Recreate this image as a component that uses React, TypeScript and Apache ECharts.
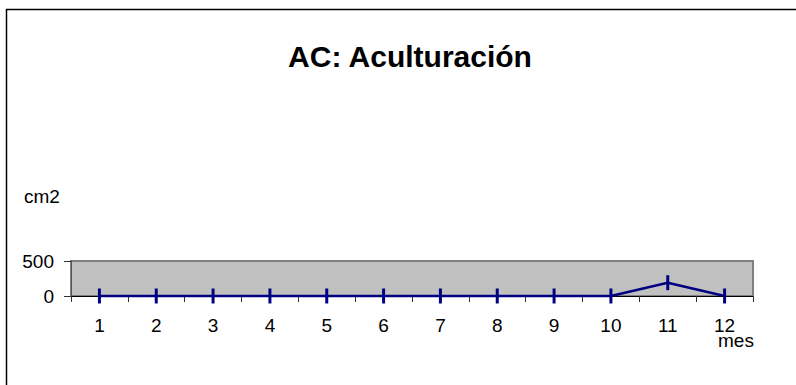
import React, { useEffect, useRef } from "react";
import * as echarts from "echarts";

const months = ["1", "2", "3", "4", "5", "6", "7", "8", "9", "10", "11", "12"];
const values = [0, 0, 0, 0, 0, 0, 0, 0, 0, 0, 190, 0];
const yTicks = { min: 0, max: 500, interval: 500 };
const titleText = "AC: Aculturación";
const yName = "cm2";
const xName = "mes";

const FONT = "'Liberation Sans', Arial, sans-serif";

export default function App() {
  const ref = useRef<HTMLDivElement>(null);
  useEffect(() => {
    if (!ref.current) return;
    const chart = echarts.init(ref.current, undefined, { renderer: "svg" });
    chart.setOption({
      animation: false,
      backgroundColor: "#ffffff",
      textStyle: { fontFamily: FONT },
      title: {
        text: titleText,
        left: 405,
        top: 36,
        textAlign: "center",
        textStyle: { fontSize: 30, fontWeight: "bold", color: "#000", fontFamily: FONT },
      },
      graphic: [
        {
          type: "rect",
          shape: { x: 6.5, y: 9.5, width: 900, height: 500 },
          style: { fill: "none", stroke: "#000", lineWidth: 1.5 },
          silent: true,
        },
        {
          type: "text",
          x: 24,
          y: 196,
          style: { text: yName, fontSize: 19, fill: "#000", fontFamily: FONT, textVerticalAlign: "middle" },
        },
        {
          type: "text",
          x: 718,
          y: 340,
          style: { text: xName, fontSize: 19, fill: "#000", fontFamily: FONT, textVerticalAlign: "middle" },
        },
      ],
      grid: {
        left: 71,
        right: 43,
        top: 261,
        bottom: 89,
        show: true,
        backgroundColor: "#c0c0c0",
        borderColor: "#808080",
        borderWidth: 2,
      },
      xAxis: {
        type: "category",
        data: months,
        boundaryGap: true,
        axisLine: { show: true, onZero: true, lineStyle: { color: "#000", width: 1 } },
        axisTick: { show: true, inside: false, length: 6, alignWithLabel: false, lineStyle: { color: "#333" } },
        axisLabel: { fontSize: 19, color: "#000", margin: 20, fontFamily: FONT, interval: 0 },
        splitLine: { show: false },
      },
      yAxis: {
        type: "value",
        min: yTicks.min,
        max: yTicks.max,
        interval: yTicks.interval,
        axisLine: { show: true, lineStyle: { color: "#555", width: 1 } },
        axisTick: { show: true, inside: false, length: 7, lineStyle: { color: "#333" } },
        axisLabel: { fontSize: 19, color: "#000", margin: 17, fontFamily: FONT },
        splitLine: { show: false },
      },
      series: [
        {
          type: "line",
          data: values,
          symbol: "rect",
          symbolSize: [3, 15],
          itemStyle: { color: "#000080" },
          lineStyle: { color: "#000080", width: 2.5 },
          clip: false,
        },
      ],
    });
    return () => chart.dispose();
  }, []);
  return (
    <div
      ref={ref}
      style={{ position: "absolute", left: 0, top: 0, width: 796, height: 385 }}
    />
  );
}
